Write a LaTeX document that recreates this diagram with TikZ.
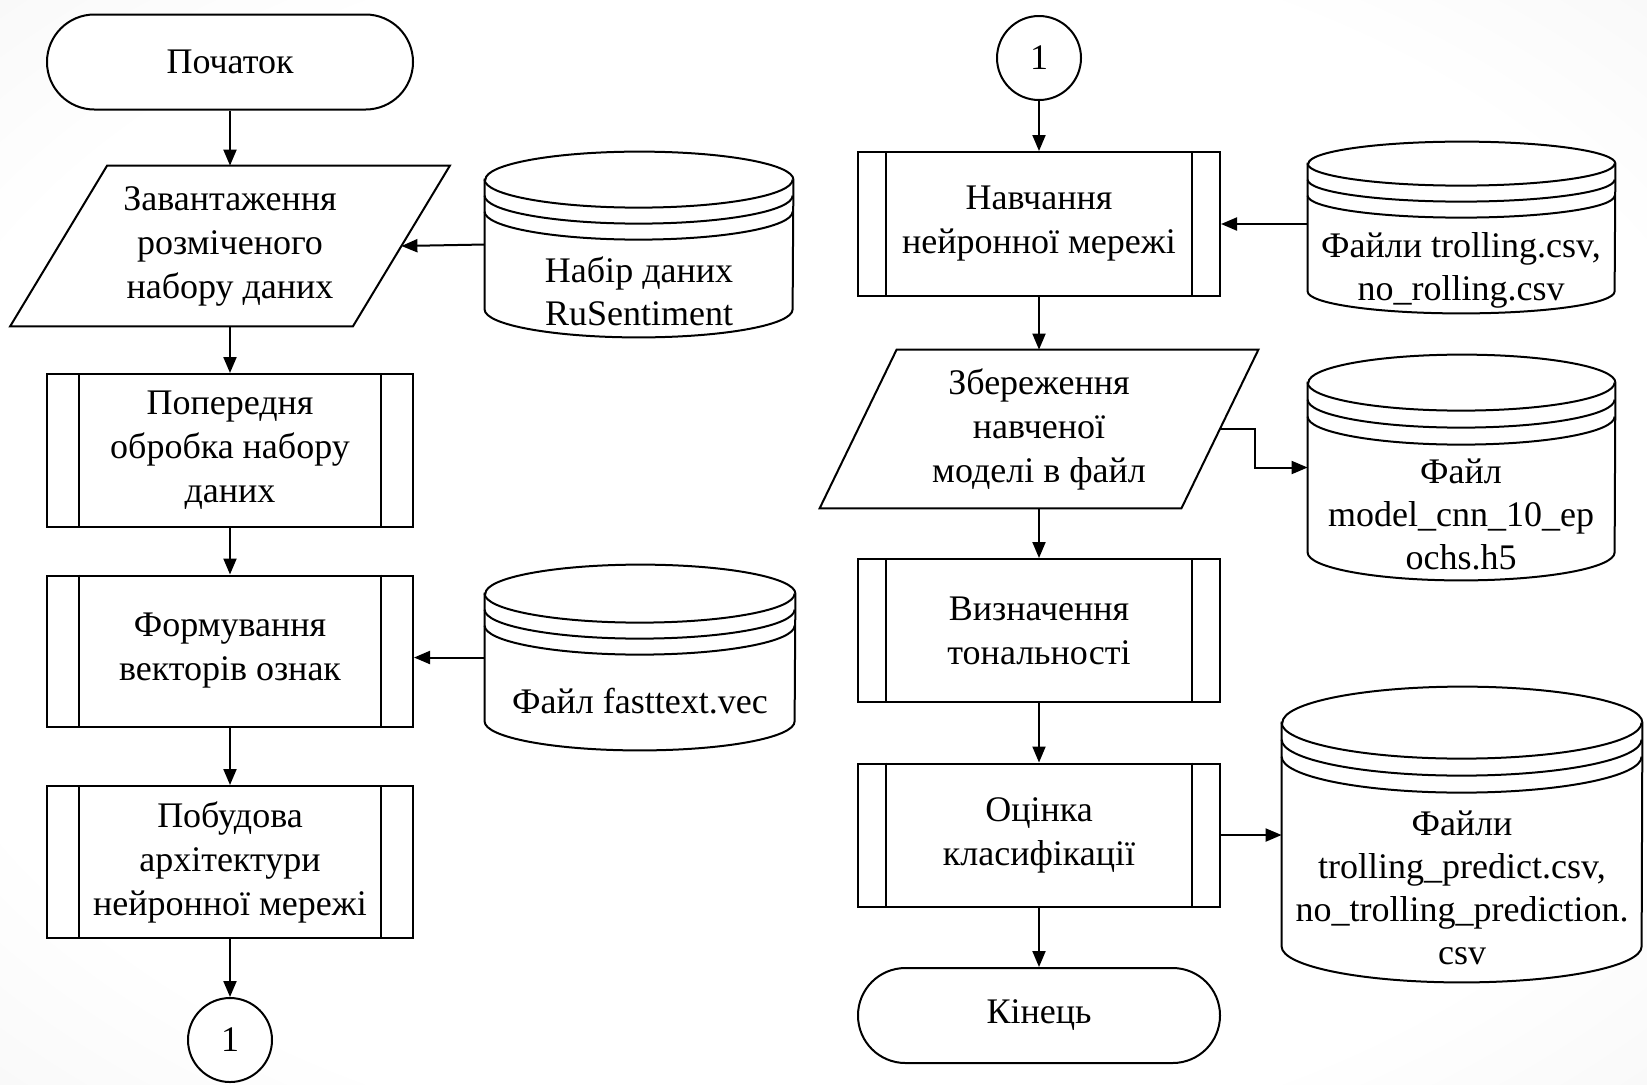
\documentclass[tikz,border=0pt]{standalone}
\usepackage{fontspec}
\setmainfont{Liberation Serif}
\usetikzlibrary{arrows.meta,calc}
\pgfdeclarelayer{bglayer}
\pgfdeclarelayer{shapelayer}
\pgfsetlayers{bglayer,shapelayer,main}
\pgfdeclareradialshading{bgshade}{\pgfpoint{0bp}{0bp}}{color(0bp)=(white); color(28bp)=(white); color(50bp)=(black!7); color(72bp)=(black!12)}
\newcommand\dbshape[4]{%
  \draw[line width=1pt,fill=white] ([yshift=-#3]#1.north west) -- ([yshift=#3]#1.south west)
    arc[start angle=180,end angle=360,x radius=#2,y radius=#3] -- ([yshift=-#3]#1.north east)
    arc[start angle=0,end angle=180,x radius=#2,y radius=#3] -- cycle;
  \draw[line width=1pt] ([yshift=-#3]#1.north west) arc[start angle=180,end angle=360,x radius=#2,y radius=#3];
  \draw[line width=1pt] ([yshift=-#3-#4]#1.north west) arc[start angle=180,end angle=360,x radius=#2,y radius=#3];
  \draw[line width=1pt] ([yshift=-#3-2*#4]#1.north west) arc[start angle=180,end angle=360,x radius=#2,y radius=#3];
}
\newcommand\sublines[2]{%
  \draw[line width=1pt] ([xshift=#2]#1.north west) -- ([xshift=#2]#1.south west);
  \draw[line width=1pt] ([xshift=-#2]#1.north east) -- ([xshift=-#2]#1.south east);
}
\newcommand\ioshape[2]{% node name, slant
  \begin{pgfonlayer}{shapelayer}
  \draw[line width=1pt,fill=white] ([xshift=#2]#1.north west) -- (#1.north east)
    -- ([xshift=-#2]#1.south east) -- (#1.south west) -- cycle;
  \end{pgfonlayer}
  \coordinate (#1e) at ([xshift=-#2/2]#1.east);
}
\begin{document}
\begin{tikzpicture}[x=0.5pt,y=-0.5pt,
  every node/.style={font=\fontsize{18}{22}\selectfont},
  arr/.style={line width=1pt,-{Triangle[length=8pt,width=6.5pt]}},
  term/.style={draw,line width=1pt,fill=white,rectangle,rounded corners=23.7pt,minimum height=47.5pt,align=center,inner sep=0pt},
  proc/.style={draw,line width=1pt,fill=white,rectangle,align=center,inner sep=0pt},
  iotext/.style={rectangle,align=center,inner sep=0pt},
  conn/.style={draw,line width=1pt,fill=white,circle,minimum size=42pt,inner sep=0pt},
  cylnode/.style={rectangle,inner sep=0pt},
  cyltext/.style={align=center,inner sep=0pt,font=\fontsize{18}{21.5}\selectfont}
]
\begin{pgfonlayer}{bglayer}
\shade[shading=bgshade] (0,0) rectangle (1647,1084);
\end{pgfonlayer}
\useasboundingbox (0,0) rectangle (1647,1084);

% ---------- left column ----------
\node[term,minimum width=183pt] (start) at (230,62) {Початок};
\node[iotext,minimum width=219.5pt,minimum height=80pt] (par1) at (230,246) {Завантаження\\розміченого\\набору даних};
\ioshape{par1}{48.5pt}
\node[proc,minimum width=183pt,minimum height=76.5pt] (box1) at (230,450.5) {Попередня\\обробка набору\\даних};
\node[proc,minimum width=183pt,minimum height=75.5pt] (box2) at (230,651) {Формування\\векторів ознак};
\node[proc,minimum width=183pt,minimum height=76pt] (box3) at (230,862) {Побудова\\архітектури\\нейронної мережі};
\node[conn] (c1) at (230,1040) {1};
\sublines{box1}{16.5pt}
\sublines{box2}{16.5pt}
\sublines{box3}{16.5pt}

% left data stores
\node[cylnode,minimum width=154pt,minimum height=92.5pt] (cylA) at (639,244.5) {};
\dbshape{cylA}{77pt}{14pt}{8pt}
\node[cyltext] (cylAt) at (639,291) {Набір даних\\RuSentiment};
\node[cylnode,minimum width=155pt,minimum height=92.5pt] (cylB) at (640,657.5) {};
\dbshape{cylB}{77.5pt}{14.5pt}{8pt}
\node[cyltext] (cylBt) at (640,701) {Файл fasttext.vec};

% ---------- right column ----------
\node[conn] (c2) at (1039,58) {1};
\node[proc,minimum width=181pt,minimum height=72pt] (box4) at (1039,224) {Навчання\\нейронної мережі};
\node[iotext,minimum width=219pt,minimum height=79pt] (par2) at (1039,429) {Збереження\\навченої\\моделі в файл};
\ioshape{par2}{38.5pt}
\node[proc,minimum width=181pt,minimum height=71.5pt] (box5) at (1039,630.5) {Визначення\\тональності};
\node[proc,minimum width=181pt,minimum height=71.5pt] (box6) at (1039,835) {Оцінка\\класифікації};
\node[term,minimum width=181pt] (end) at (1039,1015.5) {Кінець};
\sublines{box4}{14.5pt}
\sublines{box5}{14.5pt}
\sublines{box6}{14.5pt}

% right data stores
\node[cylnode,minimum width=153.5pt,minimum height=85.5pt] (cylC) at (1461.5,227.5) {};
\dbshape{cylC}{76.75pt}{11pt}{8pt}
\node[cyltext] (cylCt) at (1461,270) {Файли trolling.csv,\\no\_rolling.csv};
\node[cylnode,minimum width=153.5pt,minimum height=112.5pt] (cylD) at (1461.5,467.5) {};
\dbshape{cylD}{76.75pt}{14pt}{8.5pt}
\node[cyltext] (cylDt) at (1461,514) {Файл\\model\_cnn\_10\_ep\\ochs.h5};
\node[cylnode,minimum width=180pt,minimum height=147.5pt] (cylE) at (1462,834.5) {};
\dbshape{cylE}{90pt}{18pt}{8.5pt}
\node[cyltext] (cylEt) at (1462,888) {Файли\\trolling\_predict.csv,\\no\_trolling\_prediction.\\csv};

% ---------- connectors ----------
\draw[arr] (start.south) -- (par1.north);
\draw[arr] (par1.south) -- (box1.north);
\draw[arr] (box1.south) -- (box2.north);
\draw[arr] (box2.south) -- (box3.north);
\draw[arr] (box3.south) -- (c1.north);
\draw[arr] (cylA.west) -- (par1e);
\draw[arr] (cylB.west) -- (cylB.west -| box2.east);

\draw[arr] (c2.south) -- (box4.north);
\draw[arr] (box4.south) -- (par2.north);
\draw[arr] (par2.south) -- (box5.north);
\draw[arr] (box5.south) -- (box6.north);
\draw[arr] (box6.south) -- (end.north);
\draw[arr] (cylC.west |- box4.east) -- (box4.east);
\draw[arr] (par2e) -- ++(35,0) |- (cylD.west);
\draw[arr] (box6.east) -- (cylE.west |- box6.east);
\end{tikzpicture}
\end{document}
